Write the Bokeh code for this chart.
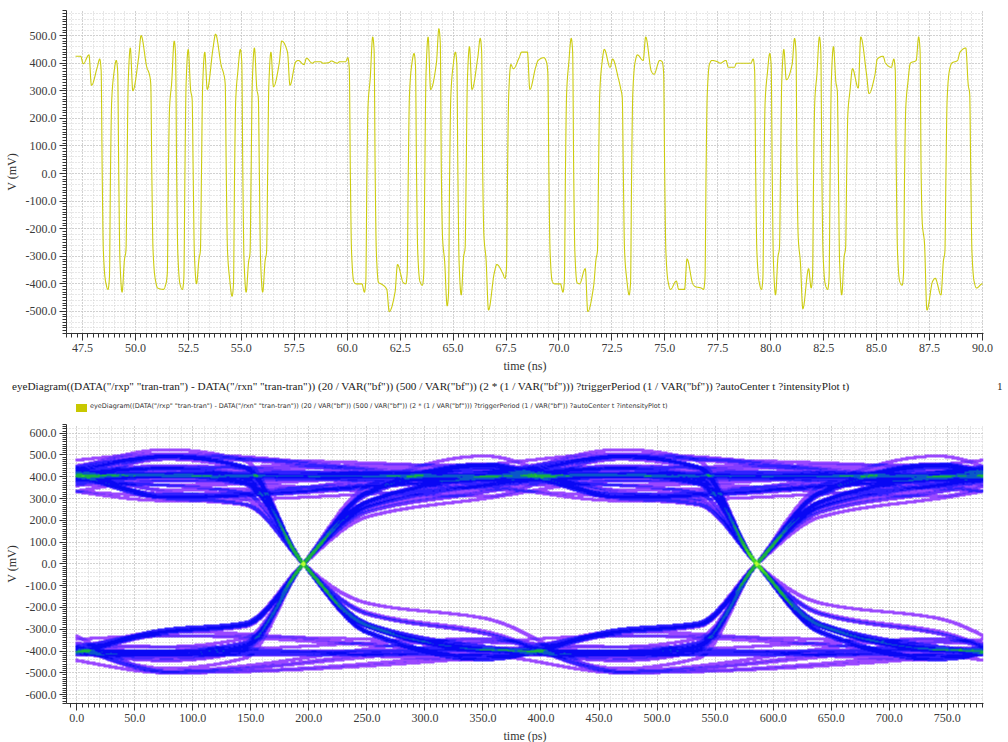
import html
import numpy as np
from bokeh.plotting import figure
from bokeh.models import Range1d, SingleIntervalTicker, PrintfTickFormatter, Div, Grid
from bokeh.layouts import column
from bokeh.embed import file_html
from bokeh.resources import INLINE

# ------------------------------------------------------------------ data
BIT_RATE_GHZ = 2.56          # VAR("bf")
FIRST_EDGE_NS = 48.43        # first visible bit edge
FIRST_BIT = -4               # index of the first bit listed below
T_START_NS = 47.17
T_END_NS = 90.0

# per bit: value early in the bit and late in the bit (mV)
early_mv = [420, 425, 430, 385, -390, 360, -430, 455, 420, 385,
            -380, -420, 330, -400, 450, -400, 440, 455, 390, -380,
            370, -430, 455, -430, 440, 400, 440, 405, 395, 400,
            405, 402, 400, 405, -390, -400, 345, -395, -420, -430,
            -395, 390, -390, 495, 400, -320, 385, -440, 460, 420,
            -310, -360, -360, 395, 420, 440, 385, 420, -390, -400,
            400, -395, -345, -410, 395, 385, 345, -380, 400, 410,
            370, 410, -390, -390, -420, -400, -415, 395, 405, 410,
            385, 400, 400, -390, 360, -440, 450, 395, -320, -345,
            360, -400, 460, -440, 300, 310, 360, 355, 425, 385,
            -390, 330, 410, -250, -390, -440, 370, 410, 455, -390,
            -400]
late_mv = [425, 398, 320, 415, -420, 410, -310, 300, 500, 360,
           -415, -400, 480, -420, 300, -310, 305, 505, 360, -445,
           450, -320, 305, -315, 315, 480, 320, 410, 418, 405,
           400, 408, 405, 420, -400, -430, 495, -400, -500, -330,
           -400, 435, -405, 305, 525, -480, 440, -300, 305, 490,
           -495, -330, -380, 380, 440, 305, 410, 405, -400, -430,
           490, -400, -500, -310, 450, 415, 305, -440, 430, 495,
           360, 405, -420, -420, -310, -410, -420, 410, 400, 385,
           400, 400, 415, -420, 435, -300, 340, 490, -490, -415,
           495, -420, 330, -300, 380, 495, 290, 415, 400, 415,
           -405, 400, 495, -495, -380, -315, 400, 440, 320, -415,
           -410]

TRACE_LABEL = ('eyeDiagram((DATA("/rxp" "tran-tran") - DATA("/rxn" "tran-tran")) '
               '(20 / VAR("bf")) (500 / VAR("bf")) (2 * (1 / VAR("bf"))) '
               '?triggerPeriod (1 / VAR("bf")) ?autoCenter t ?intensityPlot t)')
SUBWINDOW = "1"
TOP_X_LABEL = "time (ns)"
EYE_X_LABEL = "time (ps)"
Y_LABEL = "V (mV)"

# intensity palette (count threshold -> colour)
INT_BOUNDS = [1, 2, 3, 5, 12, 18, 26, 40]
INT_COLORS = ["#9a48ff", "#6a30ff", "#3020ff", "#0808f4", "#0a58c8", "#18b040", "#48e020", "#b8ff30"]

# ------------------------------------------------------------------ waveform
UI_NS = 1.0 / BIT_RATE_GHZ
UI_PS = UI_NS * 1000.0


def pchip(x, y, xq):
    x = np.asarray(x, float)
    y = np.asarray(y, float)
    h = np.diff(x)
    m = np.diff(y) / h
    d = np.zeros_like(y)
    d[0], d[-1] = m[0], m[-1]
    m0, m1, h0, h1 = m[:-1], m[1:], h[:-1], h[1:]
    w1 = 2 * h1 + h0
    w2 = h1 + 2 * h0
    with np.errstate(divide="ignore", invalid="ignore"):
        dd = (w1 + w2) / (w1 / m0 + w2 / m1)
    d[1:-1] = np.where(m0 * m1 > 0, dd, 0.0)
    i = np.clip(np.searchsorted(x, xq, side="right") - 1, 0, len(x) - 2)
    s = (xq - x[i]) / h[i]
    h00 = 2 * s**3 - 3 * s**2 + 1
    h10 = s**3 - 2 * s**2 + s
    h01 = -2 * s**3 + 3 * s**2
    h11 = s**3 - s**2
    return h00 * y[i] + h10 * h[i] * d[i] + h01 * y[i + 1] + h11 * h[i] * d[i + 1]


kt, kv = [], []
for i, (a, b) in enumerate(zip(early_mv, late_mv)):
    e = FIRST_EDGE_NS + (FIRST_BIT + i) * UI_NS
    if i > 0 and (a > 0) != (late_mv[i - 1] > 0):
        kt += [e - 0.05, e, e + 0.055]
        kv += [0.9 * late_mv[i - 1], 0.0, 0.72 * a]
    kt += [e + 0.4 * UI_NS, e + 0.7 * UI_NS]
    kv += [a, b]

t_top = np.arange(T_START_NS, T_END_NS + 1e-9, 0.005)
v_top = pchip(kt, kv, t_top)

# ------------------------------------------------------------------ common styling
SERIF = "Liberation Serif"


def style(p):
    p.outline_line_color = None
    p.background_fill_color = "white"
    p.border_fill_color = "white"
    for ax in (p.xaxis[0], p.yaxis[0]):
        ax.major_tick_out = 7
        ax.major_tick_in = 0
        ax.minor_tick_out = 4
        ax.minor_tick_in = 0
        ax.axis_line_color = "#333333"
        ax.major_tick_line_color = "#333333"
        ax.minor_tick_line_color = "#333333"
        ax.major_label_text_font = SERIF
        ax.major_label_text_font_size = "12px"
        ax.major_label_text_color = "#3a3a3a"
        ax.major_label_standoff = 3
        ax.axis_label_text_font = SERIF
        ax.axis_label_text_font_size = "12px"
        ax.axis_label_text_font_style = "normal"
        ax.axis_label_text_color = "#333333"
        ax.axis_label_standoff = 4
        ax.formatter = PrintfTickFormatter(format="%.1f")
    for g in (p.xgrid[0], p.ygrid[0]):
        g.grid_line_color = "#a8a8a8"
        g.grid_line_dash = "1 2"
        g.grid_line_width = 1


def minor_grid(p, xint, yint):
    p.add_layout(Grid(dimension=0, ticker=SingleIntervalTicker(interval=xint),
                      grid_line_color="#cfcfcf", grid_line_dash="1 2"))
    p.add_layout(Grid(dimension=1, ticker=SingleIntervalTicker(interval=yint),
                      grid_line_color="#cfcfcf", grid_line_dash="1 2"))


FRAME_W = 917

# ------------------------------------------------------------------ top plot
p1 = figure(frame_width=FRAME_W, frame_height=323,
            x_range=Range1d(46.744, 90.047), y_range=Range1d(-580, 591),
            output_backend="svg", toolbar_location=None,
            min_border_left=66, min_border_right=25, min_border_top=10, min_border_bottom=42)
minor_grid(p1, 0.5, 20)
style(p1)
p1.xaxis.ticker = SingleIntervalTicker(interval=2.5, num_minor_ticks=10)
p1.yaxis.ticker = SingleIntervalTicker(interval=100, num_minor_ticks=10)
p1.xaxis.axis_label = TOP_X_LABEL
p1.yaxis.axis_label = Y_LABEL
p1.line(t_top, v_top, line_color="#cccc10", line_width=1.1)

# ------------------------------------------------------------------ eye diagram
X0, X1 = -8.8, 2 * UI_PS
Y0, Y1 = -641.0, 640.0
NX, NY = FRAME_W, 279

tt_ps = np.arange(0.0, 2 * UI_PS, 0.25)
counts = np.zeros(NX * NY, dtype=np.int32)
FOOT = [(dx, dy) for dx in (-1, 0, 1) for dy in (-1, 0, 1)]
j = FIRST_BIT
while True:
    w = FIRST_EDGE_NS + j * UI_NS - UI_NS / 2
    if w + 2 * UI_NS > T_END_NS:
        break
    if w >= T_START_NS:
        v = pchip(kt, kv, w + tt_ps / 1000.0)
        ix = np.floor((tt_ps - X0) / (X1 - X0) * NX).astype(int)
        iy = np.floor((v - Y0) / (Y1 - Y0) * NY).astype(int)
        idx = []
        for dx, dy in FOOT:
            ok = (ix + dx >= 0) & (ix + dx < NX) & (iy + dy >= 0) & (iy + dy < NY)
            idx.append((iy[ok] + dy) * NX + ix[ok] + dx)
        u = np.unique(np.concatenate(idx))
        np.add.at(counts, u, 1)
    j += 1

counts = counts.reshape(NY, NX)
img = np.zeros((NY, NX), dtype=np.uint32)
view = img.view(dtype=np.uint8).reshape((NY, NX, 4))
level = np.searchsorted(INT_BOUNDS, counts, side="right") - 1
for li, col in enumerate(INT_COLORS):
    m = (level == li) & (counts > 0)
    view[m, 0] = int(col[1:3], 16)
    view[m, 1] = int(col[3:5], 16)
    view[m, 2] = int(col[5:7], 16)
    view[m, 3] = 255

p2 = figure(frame_width=FRAME_W, frame_height=279,
            x_range=Range1d(X0, X1), y_range=Range1d(Y0, Y1),
            output_backend="svg", toolbar_location=None,
            min_border_left=66, min_border_right=25, min_border_top=8, min_border_bottom=39)
minor_grid(p2, 10, 20)
style(p2)
p2.xaxis.ticker = SingleIntervalTicker(interval=50, num_minor_ticks=10)
p2.yaxis.ticker = SingleIntervalTicker(interval=100, num_minor_ticks=10)
p2.xaxis.axis_label = EYE_X_LABEL
p2.yaxis.axis_label = Y_LABEL
p2.image_rgba(image=[img], x=X0, y=Y0, dw=X1 - X0, dh=Y1 - Y0)

# ------------------------------------------------------------------ title + legend rows
title_html = (
    '<div style="position:relative;width:1008px;height:20px;white-space:nowrap;'
    "font-family:'Liberation Serif';font-size:11.2px;color:#222\">"
    f'<span style="position:absolute;left:12px;top:3px">{html.escape(TRACE_LABEL)}</span>'
    f'<span style="position:absolute;left:997px;top:3px">{SUBWINDOW}</span></div>')
legend_html = (
    '<div style="position:relative;width:1008px;height:21px;white-space:nowrap">'
    '<span style="position:absolute;left:76px;top:9px;width:11px;height:8px;background:#c8c800"></span>'
    "<span style=\"position:absolute;left:90px;top:7px;font-family:'DejaVu Sans';"
    f'font-size:6.5px;color:#333">{html.escape(TRACE_LABEL)}</span></div>')

title_div = Div(text=title_html, width=1008, height=20, margin=(0, 0, 0, 0))
legend_div = Div(text=legend_html, width=1008, height=21, margin=(0, 0, 0, 0))

layout = column(p1, title_div, legend_div, p2, spacing=0)
open("out.html", "w").write(file_html(layout, INLINE))
